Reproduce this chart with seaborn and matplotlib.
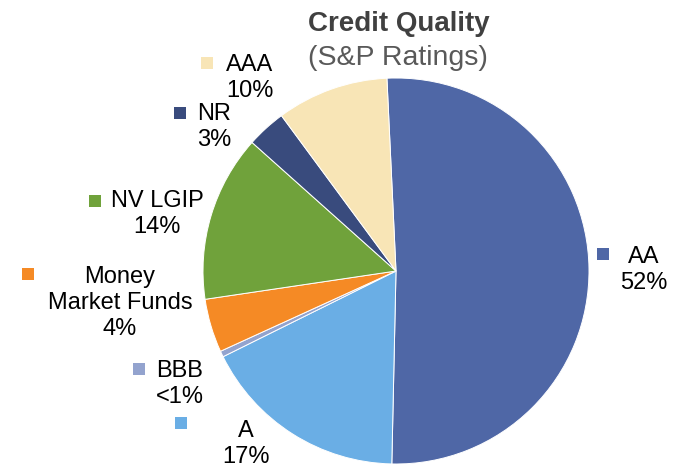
import matplotlib
matplotlib.use("Agg")
import matplotlib.pyplot as plt
from matplotlib.patches import Rectangle
import seaborn as sns

# ---- data ----
categories = ["AA", "A", "BBB", "Money\nMarket Funds", "NV LGIP", "NR", "AAA"]
values = [51.3, 17.4, 0.5, 4.5, 14.0, 3.3, 9.4]
pct_labels = ["52%", "17%", "<1%", "4%", "14%", "3%", "10%"]
colors = ["#4F67A6", "#6AAEE5", "#93A3CE", "#F58A25", "#70A23B", "#394B7D", "#F8E5B6"]

title = "Credit Quality"
subtitle = "(S&P Ratings)"

sns.set_theme(style="white")
plt.rcParams["font.family"] = ["Liberation Sans", "DejaVu Sans"]

W, H = 678, 468
fig = plt.figure(figsize=(W / 100, H / 100), dpi=100)
ax = fig.add_axes([0, 0, 1, 1])

cx, cy, r = 396, H - 271, 193
ax.pie(values, colors=colors, startangle=92.7, counterclock=False,
       center=(cx, cy), radius=r, frame=True,
       wedgeprops=dict(edgecolor="white", linewidth=0.7))
ax.set_xlim(0, W)
ax.set_ylim(0, H)
ax.set_aspect("equal")
ax.axis("off")

# label layout (pixel positions, y measured from top): marker centre, text block centre
layout = {
    "AA": ((603, 254), (644, 270)),
    "A": ((181, 423), (246, 444)),
    "BBB": ((139, 369), (180, 384)),
    "Money\nMarket Funds": ((28, 274), (120, 303)),
    "NV LGIP": ((95, 201), (157, 214)),
    "NR": ((180, 113), (214, 127)),
    "AAA": ((207, 63), (250, 78)),
}
ms = 12
for cat, pct, col in zip(categories, pct_labels, colors):
    (mx, my), (tx, ty) = layout[cat]
    ax.add_patch(Rectangle((mx - ms / 2, H - my - ms / 2), ms, ms,
                           facecolor=col, edgecolor="none"))
    ax.text(tx, H - ty, f"{cat}\n{pct}", ha="center", va="center",
            multialignment="center", fontsize=17, color="black", linespacing=1.22)

ax.text(399, H - 31, title, ha="center", va="baseline", fontsize=20,
        fontweight="bold", color="#404040")
ax.text(398, H - 65, subtitle, ha="center", va="baseline", fontsize=20.5,
        color="#595959")

fig.savefig("out.png", dpi=100)
